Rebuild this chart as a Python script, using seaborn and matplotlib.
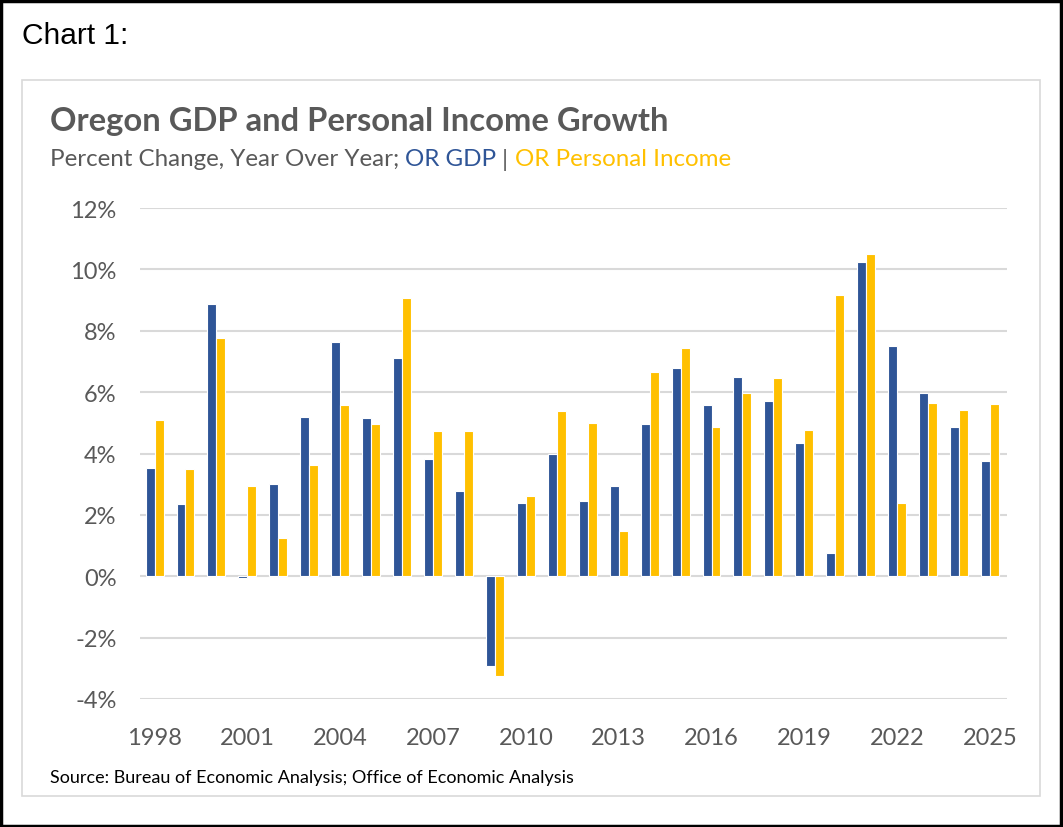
import matplotlib
matplotlib.use("Agg")
import matplotlib.pyplot as plt
from matplotlib.patches import Rectangle
import seaborn as sns
import pandas as pd

years = list(range(1998, 2026))
gdp = [3.54, 2.37, 8.87, -0.05, 3.02, 5.18, 7.62, 5.16, 7.12, 3.82,
       2.78, -2.93, 2.38, 4.00, 2.45, 2.93, 4.95, 6.79, 5.57, 6.49,
       5.72, 4.33, 0.76, 10.25, 7.49, 5.98, 4.87, 3.74]
personal_income = [5.10, 3.51, 7.75, 2.95, 1.24, 3.64, 5.58, 4.96, 9.07, 4.73,
                   4.74, -3.26, 2.63, 5.37, 4.99, 1.46, 6.66, 7.45, 4.85, 5.98,
                   6.47, 4.75, 9.15, 10.49, 2.40, 5.66, 5.43, 5.60]
series_names = ["OR GDP", "OR Personal Income"]
y_ticks = [-4, -2, 0, 2, 4, 6, 8, 10, 12]

BLUE = "#2F5597"
GOLD = "#FFC000"
GRAY = "#595959"

df = pd.DataFrame({
    "Year": [str(y) for y in years] * 2,
    "Value": gdp + personal_income,
    "Series": [series_names[0]] * len(years) + [series_names[1]] * len(years),
})

sns.set_style("white")
plt.rcParams["font.family"] = ["Lato", "DejaVu Sans"]

fig = plt.figure(figsize=(10.63, 8.28), dpi=100)
ax = fig.add_axes([140 / 1063, 1 - 700 / 828, (1007 - 140) / 1063, (700 - 209) / 828])

sns.barplot(data=df, x="Year", y="Value", hue="Series", palette=[BLUE, GOLD],
            saturation=1, width=0.58, edgecolor="white", linewidth=0.8, ax=ax,
            legend=False, errorbar=None, zorder=3)

ax.set_ylim(-4, 12)
ax.set_yticks(y_ticks)
ax.set_yticklabels([f"{t}%" for t in y_ticks])
ax.set_xlim(-0.47, len(years) - 1 + 0.55)
xt = list(range(0, len(years), 3))
ax.set_xticks(xt)
ax.set_xticklabels([str(years[i]) for i in xt])
ax.set_xlabel("")
ax.set_ylabel("")
for s in ax.spines.values():
    s.set_visible(False)
ax.grid(axis="y", color="#D9D9D9", linewidth=1.5, zorder=0)
ax.grid(axis="x", visible=False)
ax.set_axisbelow(True)
ax.tick_params(axis="both", length=0, labelsize=17, colors=GRAY)
ax.tick_params(axis="y", pad=17)
ax.tick_params(axis="x", pad=20)

# frames
fig.patches.append(Rectangle((0.001, 0.001), 0.997, 0.997, transform=fig.transFigure,
                             fill=False, edgecolor="black", linewidth=2.5))
fig.patches.append(Rectangle((22 / 1063, 1 - 797 / 828), (1040 - 22) / 1063, (797 - 81) / 828,
                             transform=fig.transFigure, fill=False,
                             edgecolor="#D9D9D9", linewidth=1.2))

fig.text(22 / 1063, 1 - 36 / 828, "Chart 1:", fontsize=21.5, color="black",
         family=["Liberation Sans", "DejaVu Sans"], va="center", ha="left")
fig.text(50 / 1063, 1 - 121 / 828, "Oregon GDP and Personal Income Growth",
         fontsize=23.6, fontweight="bold", color=GRAY, va="center", ha="left")

# subtitle with coloured parts
parts = [("Percent Change, Year Over Year; ", GRAY), ("OR GDP", BLUE),
         (" | ", GRAY), ("OR Personal Income", GOLD)]
fig.canvas.draw()
renderer = fig.canvas.get_renderer()
x = 50 / 1063
for txt, col in parts:
    t = fig.text(x, 1 - 160 / 828, txt, fontsize=17.4, color=col, va="center", ha="left")
    bb = t.get_window_extent(renderer=renderer)
    x += bb.width / fig.bbox.width

fig.text(50 / 1063, 1 - 778 / 828, "Source: Bureau of Economic Analysis; Office of Economic Analysis",
         fontsize=13, color="black", va="center", ha="left")

fig.savefig("out.png", dpi=100, facecolor="white")
